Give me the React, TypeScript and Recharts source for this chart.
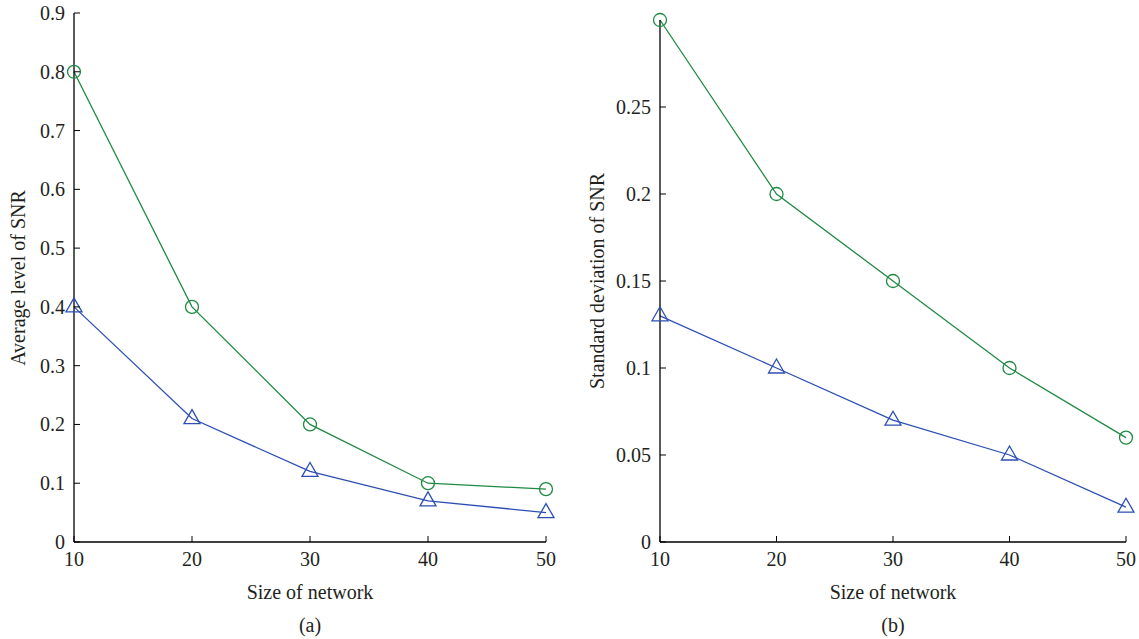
import { Line, LineChart, XAxis, YAxis } from "recharts";

const sizes = [10, 20, 30, 40, 50];
const avgCircle = [0.8, 0.4, 0.2, 0.1, 0.09];
const avgTriangle = [0.4, 0.21, 0.12, 0.07, 0.05];
const sdCircle = [0.3, 0.2, 0.15, 0.1, 0.06];
const sdTriangle = [0.13, 0.1, 0.07, 0.05, 0.02];
const xTicks = [10, 20, 30, 40, 50];
const avgTicks = [0, 0.1, 0.2, 0.3, 0.4, 0.5, 0.6, 0.7, 0.8, 0.9];
const sdTicks = [0, 0.05, 0.1, 0.15, 0.2, 0.25];

const GREEN = "#1f8a42";
const BLUE = "#2d4fb4";
const FONT = "'Liberation Serif', 'DejaVu Serif', serif";
const TXT = "#231f20";
const FS = 20;
const TICK = 6;
const GAP = 9;

function BottomTick({ x, y, payload }: any) {
  return (
    <g>
      <line x1={x} y1={y - GAP} x2={x} y2={y - GAP - TICK} stroke="#000" />
      <text x={x} y={y} dy="0.75em" textAnchor="middle" fontSize={FS} fontFamily={FONT} fill={TXT}>
        {payload.value}
      </text>
    </g>
  );
}

function LeftTick({ x, y, payload }: any) {
  return (
    <g>
      <line x1={x + GAP} y1={y} x2={x + GAP + TICK} y2={y} stroke="#000" />
      <text x={x} y={y} dy="0.35em" textAnchor="end" fontSize={FS} fontFamily={FONT} fill={TXT}>
        {payload.value}
      </text>
    </g>
  );
}

function TopTick({ x, y }: any) {
  return <line x1={x} y1={y} x2={x} y2={y + TICK} stroke="#000" />;
}

function RightTick({ x, y }: any) {
  return <line x1={x} y1={y} x2={x - TICK} y2={y} stroke="#000" />;
}

function CircleDot({ cx, cy, stroke, index }: any) {
  if (cx == null || cy == null) return <g key={index} />;
  return <circle key={index} cx={cx} cy={cy} r={6.5} fill="none" stroke={stroke} strokeWidth={1.3} />;
}

function TriangleDot({ cx, cy, stroke, index }: any) {
  if (cx == null || cy == null) return <g key={index} />;
  const pts = `${cx},${cy - 9} ${cx - 8},${cy + 5} ${cx + 8},${cy + 5}`;
  return <polygon key={index} points={pts} fill="none" stroke={stroke} strokeWidth={1.3} />;
}

interface PanelProps {
  left: number;
  width: number;
  top: number;
  right: number;
  axisWidth: number;
  circle: number[];
  triangle: number[];
  yMax: number;
  yTicks: number[];
  yLabel: string;
  yLabelX: number;
  caption: string;
}

function Panel(p: PanelProps) {
  const data = sizes.map((s, i) => ({ size: s, circle: p.circle[i], triangle: p.triangle[i] }));
  const plotLeft = p.left + p.axisWidth;
  const plotRight = p.left + p.width - p.right;
  const centerX = (plotLeft + plotRight) / 2;
  const centerY = (p.top + 542) / 2;
  const textStyle = { position: "absolute" as const, fontFamily: FONT, fontSize: FS, color: TXT, lineHeight: "24px", textAlign: "center" as const };
  return (
    <>
      <div style={{ position: "absolute", left: p.left, top: 0 }}>
        <LineChart width={p.width} height={639} data={data} margin={{ top: p.top, right: p.right, left: 0, bottom: 67 }}>
          <XAxis
            dataKey="size"
            type="number"
            domain={[10, 50]}
            ticks={xTicks}
            height={30}
            tickSize={0}
            tickMargin={GAP}
            tickLine={false}
            tick={<BottomTick />}
            axisLine={{ stroke: "#000", strokeWidth: 1.3 }}
          />
          <XAxis
            xAxisId="top"
            orientation="top"
            dataKey="size"
            type="number"
            domain={[10, 50]}
            ticks={[20, 30, 40]}
            height={0}
            tickSize={0}
            tickMargin={0}
            tickLine={false}
            tick={<TopTick />}
            axisLine={{ stroke: "#000", strokeWidth: 1.3 }}
            allowDataOverflow
          />
          <YAxis
            type="number"
            domain={[0, p.yMax]}
            ticks={p.yTicks}
            width={p.axisWidth}
            tickSize={0}
            tickMargin={GAP}
            tickLine={false}
            tick={<LeftTick />}
            axisLine={{ stroke: "#000", strokeWidth: 1.3 }}
          />
          <YAxis
            yAxisId="right"
            orientation="right"
            type="number"
            domain={[0, p.yMax]}
            ticks={p.yTicks.slice(1)}
            width={0}
            tickSize={0}
            tickMargin={0}
            tickLine={false}
            tick={<RightTick />}
            axisLine={{ stroke: "#000", strokeWidth: 1.3 }}
            allowDataOverflow
          />
          <Line
            dataKey="circle"
            stroke={GREEN}
            strokeWidth={1.3}
            dot={<CircleDot />}
            activeDot={false}
            isAnimationActive={false}
          />
          <Line
            dataKey="triangle"
            stroke={BLUE}
            strokeWidth={1.3}
            dot={<TriangleDot />}
            activeDot={false}
            isAnimationActive={false}
          />
        </LineChart>
      </div>
      <div
        style={{
          ...textStyle,
          left: p.yLabelX - 200,
          top: centerY - 12,
          width: 400,
          height: 24,
          transform: "rotate(-90deg)",
        }}
      >
        {p.yLabel}
      </div>
      <div style={{ ...textStyle, left: centerX - 150, top: 580, width: 300 }}>Size of network</div>
      <div style={{ ...textStyle, left: centerX - 50, top: 613, width: 100 }}>{p.caption}</div>
    </>
  );
}

export default function App() {
  return (
    <div style={{ position: "absolute", left: 0, top: 0, width: 1139, height: 639, background: "#fff" }}>
      <Panel
        left={0}
        width={560}
        top={13}
        right={14}
        axisWidth={74}
        circle={avgCircle}
        triangle={avgTriangle}
        yMax={0.9}
        yTicks={avgTicks}
        yLabel="Average level of SNR"
        yLabelX={18}
        caption="(a)"
      />
      <Panel
        left={580}
        width={559}
        top={20}
        right={13}
        axisWidth={80}
        circle={sdCircle}
        triangle={sdTriangle}
        yMax={0.3}
        yTicks={sdTicks}
        yLabel="Standard deviation of SNR"
        yLabelX={597}
        caption="(b)"
      />
    </div>
  );
}
